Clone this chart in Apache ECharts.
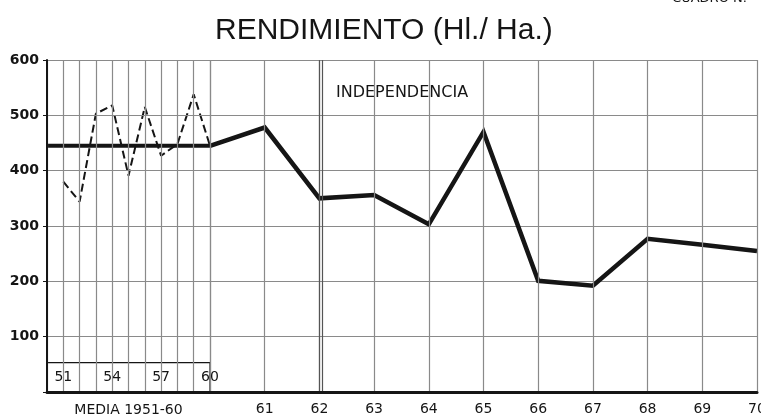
<!DOCTYPE html>
<html>
<head>
<meta charset="utf-8">
<script src="https://cdn.jsdelivr.net/npm/echarts@6/dist/echarts.min.js"></script>
<style>
  html, body { margin: 0; padding: 0; background: #fff; }
  #chart { width: 761px; height: 420px; }
</style>
</head>
<body>
<div id="chart"></div>
<script>
// yield per year, Hl/Ha
var yearsInset = [1951, 1952, 1953, 1954, 1955, 1956, 1957, 1958, 1959, 1960];
var yieldInset = [380, 344, 503, 518, 391, 515, 427, 448, 538, 445];
var insetLabels = [1951, 1954, 1957, 1960];
var mediaValue = 445; // media 1951-60
var yearsMain = [1960, 1961, 1962, 1963, 1964, 1965, 1966, 1967, 1968, 1969, 1970];
var yieldMain = [445, 478, 350, 356, 303, 470, 201, 192, 277, 266, 255];

var dom = document.getElementById("chart");
var myChart = echarts.init(dom, null, { renderer: "canvas" });

var ink = "#151515";
var gridColor = "#8a8a8a";
var fam = "DejaVu Sans";

function pairs(xs, ys) {
  return xs.map(function (x, i) { return [x, ys[i]]; });
}

var option = {
  backgroundColor: "#fff",
  animation: false,
  title: {
    text: "RENDIMIENTO (Hl./ Ha.)",
    left: 210,
    top: 11,
    textStyle: { fontFamily: "Liberation Sans", fontSize: 30, fontWeight: "normal", color: ink }
  },
  graphic: [
    {
      type: "text", right: 8, top: -8,
      style: { text: "CUADRO N.º", font: "13px " + fam, fill: ink }
    },
    {
      type: "text", left: 336, top: 85,
      style: { text: "INDEPENDENCIA", font: "16px " + fam, fill: ink }
    }
  ],
  grid: [
    { left: 47, top: 60, width: 163, height: 332, outerBoundsMode: "none" },
    { left: 210, top: 60, width: 547, height: 332, outerBoundsMode: "none" }
  ],
  xAxis: [
    {
      gridIndex: 0, type: "value", min: 1950, max: 1960, interval: 1,
      z: 5,
      name: "MEDIA 1951-60", nameLocation: "middle", nameGap: 11,
      nameTextStyle: { fontFamily: fam, fontSize: 14, color: ink, verticalAlign: "top" },
      axisLine: { show: true, lineStyle: { color: ink, width: 3 } },
      axisTick: { show: false },
      splitLine: { show: true, lineStyle: { color: gridColor, width: 1.2 } },
      axisLabel: {
        inside: true, margin: 8, fontFamily: fam, fontSize: 14, color: ink,
        showMinLabel: false,
        formatter: function (v) {
          return insetLabels.indexOf(v) >= 0 ? String(v).slice(2) : "";
        }
      }
    },
    {
      gridIndex: 1, type: "value", min: 1960, max: 1970, interval: 1,
      z: 5,
      axisLine: { show: true, lineStyle: { color: ink, width: 3 } },
      axisTick: { show: false },
      splitLine: { show: true, lineStyle: { color: gridColor, width: 1.2 } },
      axisLabel: {
        margin: 10, fontFamily: fam, fontSize: 14, color: ink,
        formatter: function (v) { return v === 1960 ? "" : String(v).slice(2); }
      }
    }
  ],
  yAxis: [
    {
      gridIndex: 0, type: "value", min: 0, max: 600, interval: 100,
      z: 5,
      axisLine: { show: true, lineStyle: { color: ink, width: 2 } },
      axisTick: { show: true, length: 4, lineStyle: { color: ink } },
      splitLine: { show: true, lineStyle: { color: gridColor, width: 1.2 } },
      axisLabel: {
        margin: 8, fontFamily: fam, fontSize: 14, fontWeight: "bold", color: ink,
        formatter: function (v) { return v === 0 ? "" : String(v); }
      }
    },
    {
      gridIndex: 1, type: "value", min: 0, max: 600, interval: 100,
      axisLine: { show: false },
      axisTick: { show: false },
      axisLabel: { show: false },
      splitLine: { show: true, lineStyle: { color: gridColor, width: 1.2 } }
    }
  ],
  series: [
    {
      name: "Media 1951-60", type: "line", xAxisIndex: 0, yAxisIndex: 0,
      data: [[1950, mediaValue], [1960, mediaValue]],
      symbol: "none",
      lineStyle: { color: ink, width: 4 },
      z: 4,
      markArea: {
        silent: true,
        itemStyle: { color: "#fff", borderColor: ink, borderWidth: 1.2 },
        data: [[{ coord: [1950, 0] }, { coord: [1960, 53] }]]
      }
    },
    {
      name: "1951-60", type: "line", xAxisIndex: 0, yAxisIndex: 0,
      data: pairs(yearsInset, yieldInset),
      symbol: "none",
      lineStyle: { color: ink, width: 2, type: [8, 4] },
      z: 3
    },
    {
      name: "Rendimiento", type: "line", xAxisIndex: 1, yAxisIndex: 1,
      data: pairs(yearsMain, yieldMain),
      symbol: "none",
      lineStyle: { color: ink, width: 4.5, join: "miter" },
      z: 4,
      markLine: {
        silent: true, symbol: "none", label: { show: false },
        lineStyle: { color: "#555", width: 1.2, type: "solid" },
        data: [{ xAxis: 1962 }, { xAxis: 1962.06 }]
      }
    }
  ]
};

myChart.setOption(option);
window.addEventListener("resize", myChart.resize);
</script>
</body>
</html>
